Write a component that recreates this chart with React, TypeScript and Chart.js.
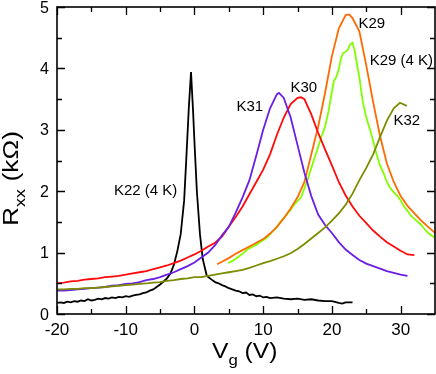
import React, { useEffect, useRef } from "react";
import { Chart, registerables } from "chart.js";
Chart.register(...registerables);

// ---- data (Vg in V, Rxx in kOhm) ----
const k22V = [-20,-19.5,-19,-18.5,-18,-17.5,-17,-16.5,-16,-15.5,-15,-14.5,-14,-13.5,-13,-12.5,-12,-11.5,-11,-10.5,-10,-9.5,-9,-8.5,-8,-7.5,-7,-6.5,-6,-5.5,-5,-4.5,-4,-3.5,-3,-2.5,-2,-1.5,-1.2,-0.8,-0.5,-0.2,0,0.35,0.8,1.2,1.8,2.5,3,3.5,4,4.5,5,5.5,6,6.5,7,7.5,8,8.5,9,9.5,10,10.5,11,12,13,14,15,16,17,18,19,20,21,21.5,22,23];
const k22R = [0.18,0.19,0.18,0.2,0.19,0.21,0.2,0.22,0.21,0.24,0.22,0.23,0.25,0.24,0.26,0.25,0.27,0.26,0.28,0.27,0.29,0.28,0.3,0.31,0.32,0.34,0.35,0.38,0.4,0.44,0.48,0.53,0.58,0.66,0.8,1.02,1.3,1.85,2.5,3.4,3.94,3.3,2.8,2.0,1.3,0.9,0.62,0.56,0.52,0.5,0.47,0.45,0.42,0.4,0.38,0.37,0.34,0.35,0.31,0.32,0.29,0.3,0.27,0.28,0.26,0.27,0.25,0.24,0.25,0.23,0.24,0.22,0.21,0.21,0.18,0.17,0.19,0.19];

const k30V = [-20,-19,-18,-17,-16,-15,-14,-13,-12,-11,-10,-9,-8,-7,-6,-5,-4,-3,-2,-1,0,1,2,3,4,5,6,7,8,9,10,11,12,13,14,15,15.5,16,17,18,19,20,21,22,23,24,25,26,27,28,29,30,31,32];
const k30R = [0.5,0.51,0.53,0.54,0.56,0.57,0.58,0.6,0.61,0.62,0.64,0.66,0.68,0.7,0.73,0.76,0.79,0.83,0.87,0.92,0.97,1.03,1.1,1.16,1.26,1.42,1.58,1.75,1.95,2.15,2.35,2.6,2.92,3.2,3.42,3.52,3.53,3.5,3.25,2.95,2.68,2.42,2.15,1.93,1.75,1.6,1.48,1.36,1.26,1.17,1.1,1.03,0.97,0.96];

const k31V = [-20,-19,-18,-17,-16,-15,-14,-13,-12,-11,-10,-9,-8,-7,-6,-5,-4,-3,-2,-1,0,1,2,3,4,5,6,7,8,9,10,11,12,12.3,13,14,15,16,17,18,19,20,21,22,23,24,25,26,27,28,29,30,31];
const k31R = [0.38,0.38,0.39,0.4,0.41,0.42,0.43,0.44,0.46,0.47,0.49,0.5,0.52,0.55,0.57,0.6,0.64,0.68,0.73,0.78,0.84,0.92,1.0,1.12,1.28,1.42,1.65,1.9,2.18,2.58,3.0,3.35,3.58,3.6,3.52,3.2,2.75,2.3,1.92,1.62,1.45,1.32,1.17,1.05,0.96,0.88,0.82,0.78,0.74,0.7,0.67,0.64,0.62];

const k32V = [-20,-19,-18,-17,-16,-15,-14,-13,-12,-11,-10,-9,-8,-7,-6,-5,-4,-3,-2,-1,0,1,2,3,4,5,6,7,8,9,10,11,12,13,14,15,16,17,18,19,20,21,22,23,24,25,26,27,28,29,29.9,30.9];
const k32R = [0.4,0.4,0.41,0.41,0.42,0.42,0.43,0.44,0.45,0.46,0.47,0.48,0.49,0.5,0.51,0.52,0.54,0.55,0.57,0.58,0.6,0.6,0.62,0.64,0.66,0.68,0.7,0.72,0.75,0.79,0.83,0.86,0.9,0.94,0.99,1.06,1.14,1.23,1.32,1.41,1.52,1.64,1.78,1.96,2.18,2.38,2.6,2.88,3.15,3.35,3.44,3.39];

const k29V = [3.3,4,5,6,7,8,9,10,11,12,13,14,15,16,17,18,19,20,21,22,22.5,23,24,25,26,27,28,29,30,31,32,33,34,35];
const k29R = [0.81,0.85,0.91,0.98,1.04,1.1,1.16,1.22,1.31,1.42,1.56,1.72,1.9,2.15,2.6,3.05,3.6,4.2,4.65,4.87,4.88,4.82,4.6,4.05,3.45,2.9,2.45,2.15,1.92,1.76,1.64,1.52,1.42,1.32];

const k29cV = [4.9,5.5,6,6.5,7,7.5,8,8.5,9,9.5,10,10.5,11,11.5,12,12.5,13,13.5,14,14.5,15,15.5,16,16.5,17,17.5,18,18.5,19,19.5,20,20.3,20.6,21,21.3,21.6,22,22.3,22.6,23,23.3,23.6,24,24.5,25,25.5,26,26.5,27,27.5,28,28.5,29,29.5,30,30.5,31,31.5,32,32.5,33,33.5,34,34.5,35];
const k29cR = [0.83,0.86,0.9,0.94,0.98,1.03,1.07,1.1,1.13,1.17,1.2,1.24,1.3,1.36,1.42,1.5,1.56,1.63,1.7,1.78,1.84,1.9,2.05,2.2,2.38,2.55,2.72,2.9,3.05,3.3,3.62,3.8,3.85,3.98,4.15,4.25,4.27,4.3,4.38,4.42,4.3,4.1,3.85,3.45,3.2,3.02,2.82,2.6,2.42,2.3,2.15,2.05,1.98,1.93,1.85,1.75,1.68,1.6,1.55,1.5,1.45,1.38,1.32,1.28,1.24];

const xTicks = [-20, -10, 0, 10, 20, 30];
const xMinorTicks = [-15, -5, 5, 15, 25];
const yTicks = [0, 1, 2, 3, 4, 5];
const yMinorTicks = [0.5, 1.5, 2.5, 3.5, 4.5];

const labelTexts = ["K22 (4 K)", "K31", "K30", "K29", "K29 (4 K)", "K32"];
const labelX = [-7.1, 8.05, 15.9, 25.8, 30.1, 30.9];
const labelY = [2.0, 3.37, 3.68, 4.72, 4.12, 3.14];

const FONT = "'Liberation Sans', Arial, sans-serif";

function pts(xs: number[], ys: number[]) {
  return xs.map((x, i) => ({ x, y: ys[i] }));
}

const decorPlugin = {
  id: "decor",
  afterDraw(chart: any) {
    const ctx = chart.ctx as CanvasRenderingContext2D;
    const xs = chart.scales.x;
    const ys = chart.scales.y;
    const a = chart.chartArea;
    ctx.save();
    // frame
    ctx.strokeStyle = "#000";
    ctx.lineWidth = 1.6;
    ctx.strokeRect(a.left, a.top, a.right - a.left, a.bottom - a.top);
    // ticks
    ctx.lineWidth = 1.3;
    const tick = (vals: number[], len: number) => {
      vals.forEach((v) => {
        const px = Math.round(xs.getPixelForValue(v)) + 0.5;
        ctx.beginPath();
        ctx.moveTo(px, a.bottom); ctx.lineTo(px, a.bottom - len);
        ctx.moveTo(px, a.top); ctx.lineTo(px, a.top + len);
        ctx.stroke();
      });
    };
    const tickY = (vals: number[], len: number) => {
      vals.forEach((v) => {
        const py = Math.round(ys.getPixelForValue(v)) + 0.5;
        ctx.beginPath();
        ctx.moveTo(a.left, py); ctx.lineTo(a.left + len, py);
        ctx.moveTo(a.right, py); ctx.lineTo(a.right - len, py);
        ctx.stroke();
      });
    };
    tick(xTicks, 8); tick(xMinorTicks, 5);
    tickY(yTicks, 8); tickY(yMinorTicks, 5);
    // tick labels
    ctx.fillStyle = "#000";
    ctx.font = `17px ${FONT}`;
    ctx.textAlign = "center";
    ctx.textBaseline = "alphabetic";
    xTicks.forEach((v) => {
      ctx.fillText(String(v), xs.getPixelForValue(v), a.bottom + 21);
    });
    ctx.font = `16px ${FONT}`;
    ctx.textAlign = "right";
    yTicks.forEach((v) => {
      ctx.fillText(String(v), a.left - 8, ys.getPixelForValue(v) + 5.5);
    });
    // series labels
    ctx.font = `15px ${FONT}`;
    ctx.textAlign = "center";
    ctx.textBaseline = "middle";
    labelTexts.forEach((t, i) => {
      ctx.fillText(t, xs.getPixelForValue(labelX[i]), ys.getPixelForValue(labelY[i]));
    });
    // x title: V_g (V)
    ctx.textAlign = "left";
    ctx.textBaseline = "alphabetic";
    ctx.save();
    ctx.translate(212, 358);
    ctx.scale(1.12, 1);
    ctx.font = `22px ${FONT}`;
    ctx.fillText("V", 0, 0);
    let w = ctx.measureText("V").width;
    ctx.font = `15px ${FONT}`;
    ctx.fillText("g", w, 7);
    w += ctx.measureText("g").width;
    ctx.font = `22px ${FONT}`;
    ctx.fillText(" (V)", w, 0);
    ctx.restore();
    // y title: R_xx (kΩ)
    ctx.save();
    ctx.translate(18, 226);
    ctx.rotate(-Math.PI / 2);
    ctx.scale(1.2, 1);
    ctx.font = `22px ${FONT}`;
    ctx.fillText("R", 0, 0);
    let wy = ctx.measureText("R").width;
    ctx.font = `15px ${FONT}`;
    ctx.fillText("xx", wy, 7);
    wy += ctx.measureText("xx").width;
    ctx.font = `22px ${FONT}`;
    ctx.fillText(" (k\u03A9)", wy, 0);
    ctx.restore();
    ctx.restore();
  },
};

export default function App() {
  const ref = useRef<HTMLCanvasElement | null>(null);
  useEffect(() => {
    document.body.style.margin = "0";
    const canvas = ref.current;
    if (!canvas) return;
    const mk = (label: string, xs: number[], ys: number[], color: string) => ({
      label,
      data: pts(xs, ys),
      borderColor: color,
      backgroundColor: color,
      borderWidth: 1.8,
      pointRadius: 0,
      showLine: true,
      tension: 0,
      fill: false,
    });
    const chart = new Chart(canvas, {
      type: "scatter",
      data: {
        datasets: [
          mk("K32", k32V, k32R, "#7d8c00"),
          mk("K31", k31V, k31R, "#6a1ee6"),
          mk("K30", k30V, k30R, "#ff0a0a"),
          mk("K29", k29V, k29R, "#ff6a00"),
          mk("K29 (4 K)", k29cV, k29cR, "#80ff00"),
          mk("K22 (4 K)", k22V, k22R, "#000000"),
        ] as any,
      },
      options: {
        responsive: false,
        animation: false,
        maintainAspectRatio: false,
        layout: { padding: { left: 57, top: 7, right: 1, bottom: 60 } },
        plugins: { legend: { display: false }, tooltip: { enabled: false } },
        scales: {
          x: { type: "linear", min: -20, max: 35, display: false },
          y: { type: "linear", min: 0, max: 5, display: false },
        },
      },
      plugins: [decorPlugin],
    });
    return () => chart.destroy();
  }, []);
  return (
    <div style={{ width: 436, height: 374 }}>
      <canvas ref={ref} width={436} height={374} style={{ display: "block" }} />
    </div>
  );
}
